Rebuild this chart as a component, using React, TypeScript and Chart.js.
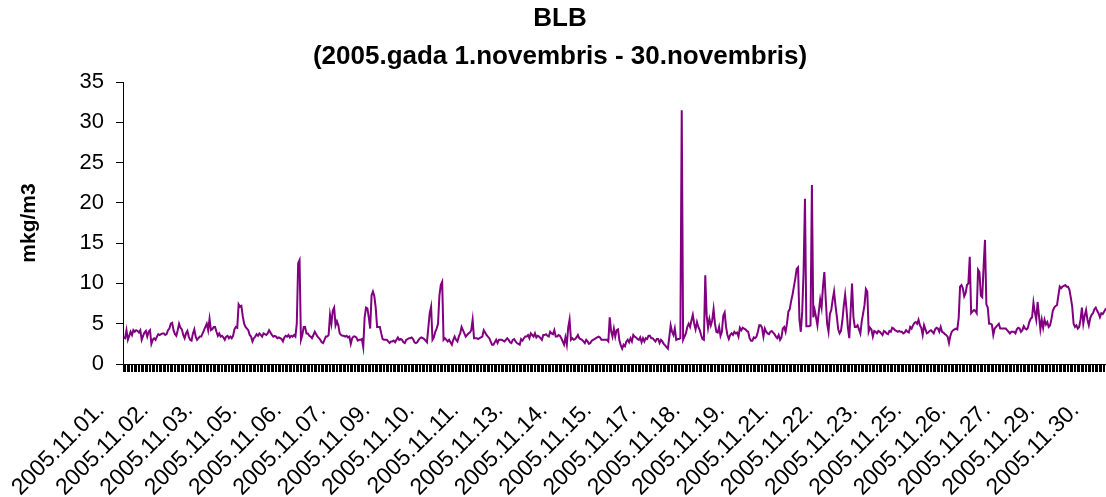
import React, { useEffect, useRef } from 'react';
import { Chart, registerables } from 'chart.js';

Chart.register(...registerables);

const TITLE_LINES = ['BLB', '(2005.gada 1.novembris - 30.novembris)'];
const Y_TITLE = 'mkg/m3';
const Y_MIN = 0;
const Y_MAX = 35;
const Y_STEP = 5;
const HOURS_PER_DAY = 24;
const LABEL_EVERY = 32;

const DAY_LABELS = [
  '2005.11.01.', '2005.11.02.', '2005.11.03.', '2005.11.04.', '2005.11.05.',
  '2005.11.06.', '2005.11.07.', '2005.11.08.', '2005.11.09.', '2005.11.10.',
  '2005.11.11.', '2005.11.12.', '2005.11.13.', '2005.11.14.', '2005.11.15.',
  '2005.11.16.', '2005.11.17.', '2005.11.18.', '2005.11.19.', '2005.11.20.',
  '2005.11.21.', '2005.11.22.', '2005.11.23.', '2005.11.24.', '2005.11.25.',
  '2005.11.26.', '2005.11.27.', '2005.11.28.', '2005.11.29.', '2005.11.30.',
];

// hourly values (mkg/m3), one array per day
const nov01 = [3.3,3.2,4.2,3.0,3.5,4.0,3.6,4.2,4.0,4.2,4.1,3.9,4.2,3.0,3.5,3.9,4.1,3.4,4.0,4.2,2.5,3.0,3.2,3.0];
const nov02 = [3.4,3.7,3.6,3.7,3.8,3.8,3.6,3.7,4.2,4.4,5.0,5.1,4.2,3.7,3.5,4.2,5.0,4.5,4.3,3.6,3.2,3.8,4.1,3.4];
const nov03 = [3.0,2.9,3.8,4.3,3.4,3.0,3.2,3.4,3.4,3.8,4.2,4.6,5.0,4.2,5.6,4.2,4.3,4.6,4.6,4.0,3.5,3.8,3.4,3.5];
const nov04 = [3.3,3.0,3.4,3.5,3.2,3.4,3.2,3.5,4.3,4.6,4.5,7.4,7.1,7.2,5.9,5.0,4.6,4.4,4.2,3.6,3.4,2.8,3.2,3.4];
const nov05 = [3.7,3.5,3.8,3.6,3.4,3.8,3.7,3.6,3.8,4.2,3.9,3.6,3.4,3.5,3.4,3.2,3.3,3.2,3.1,2.8,3.3,3.5,3.4,3.6];
const nov06 = [3.3,3.5,3.4,3.6,3.4,5.0,12.5,12.9,3.0,3.6,4.6,4.6,3.8,3.8,3.5,3.4,3.2,3.6,4.0,3.7,3.4,3.2,3.0,2.7];
const nov07 = [2.6,3.0,3.4,3.4,3.6,6.1,5.0,6.6,7.0,4.8,5.3,4.8,3.8,3.6,3.5,3.5,3.4,3.5,3.3,3.4,2.5,3.2,3.4,3.4];
const nov08 = [3.3,2.9,3.0,3.0,3.1,2.1,5.8,7.0,6.9,5.8,4.4,8.5,9.0,8.4,7.0,4.6,4.6,4.6,3.8,3.1,3.0,3.0,3.0,2.8];
const nov09 = [2.6,2.8,2.8,2.9,2.7,3.0,3.3,3.0,3.1,3.0,2.7,2.6,3.0,3.1,3.2,3.2,3.3,3.1,2.7,2.6,2.7,3.0,3.2,3.3];
const nov10 = [3.2,3.1,2.9,2.7,4.5,6.3,7.1,3.0,3.3,4.0,4.4,5.0,8.5,9.8,10.2,3.0,3.2,3.0,2.8,3.0,2.7,2.4,3.0,3.4];
const nov11 = [3.0,2.8,3.4,3.8,4.6,4.2,3.8,3.4,3.6,3.8,3.9,4.2,5.5,3.2,3.2,3.2,3.1,3.2,3.3,3.4,4.2,3.9,3.6,3.4];
const nov12 = [3.2,2.8,2.4,2.4,2.7,3.0,2.6,3.0,3.0,3.0,2.9,2.8,3.0,3.2,3.0,2.7,2.6,3.0,3.1,2.8,2.6,2.5,2.4,3.1];
const nov13 = [2.9,3.2,3.4,3.4,3.6,3.2,3.8,3.6,3.4,3.8,3.3,3.5,3.4,3.2,3.0,3.6,3.6,3.7,3.5,3.4,4.0,3.8,3.7,4.2];
const nov14 = [3.4,3.4,3.6,3.5,3.2,2.8,2.4,3.3,2.4,4.5,5.5,3.0,3.2,3.0,3.1,3.3,3.6,3.2,3.1,3.0,2.8,2.6,3.0,2.8];
const nov15 = [2.5,2.6,2.9,3.0,3.1,3.2,3.3,3.4,3.3,3.0,3.0,3.0,3.0,3.0,2.8,5.8,4.1,3.4,4.4,3.4,4.2,4.3,2.9,2.3];
const nov16 = [1.9,2.4,2.2,2.8,3.0,2.7,3.2,2.8,3.6,3.4,3.3,3.1,3.0,3.3,2.7,3.2,2.8,3.2,3.1,3.5,3.5,3.2,3.2,3.0];
const nov17 = [2.8,3.1,3.1,2.6,3.0,2.8,2.5,2.3,2.1,1.9,3.3,4.8,4.0,3.6,4.4,3.0,3.1,3.1,3.2,31.5,3.0,3.4,3.8,4.6];
const nov18 = [5.0,4.6,5.4,6.1,5.0,4.3,5.2,4.6,4.2,3.6,3.1,3.0,11.0,6.0,4.5,5.6,4.8,5.4,6.8,5.0,4.0,3.9,4.6,3.5];
const nov19 = [4.0,6.0,6.4,4.6,3.6,3.1,3.6,3.8,3.6,4.0,3.8,3.9,3.4,4.5,4.2,4.5,4.4,4.3,4.1,4.0,3.2,2.9,2.9,3.3];
const nov20 = [3.2,3.4,4.0,4.8,4.8,4.5,3.4,4.4,4.0,3.8,3.7,4.0,4.1,3.9,3.7,3.4,3.2,3.6,3.0,3.3,4.4,4.6,4.0,5.0];
const nov21 = [6.5,6.8,7.8,8.6,9.6,10.6,11.8,12.0,5.5,4.0,6.5,11.5,20.5,4.7,4.7,4.7,4.8,22.2,5.8,6.7,5.8,4.8,6.5,8.0];
const nov22 = [7.0,9.6,11.4,8.0,5.0,4.0,6.2,6.7,8.0,9.0,7.3,5.9,4.3,3.8,4.1,5.4,7.2,8.6,6.8,4.5,3.2,6.6,10.0,5.8];
const nov23 = [4.6,4.6,4.8,4.3,3.8,5.3,6.3,7.3,9.3,9.0,4.0,4.5,4.3,3.4,4.1,4.0,3.8,4.1,4.0,3.8,3.6,4.1,4.0,3.8];
const nov24 = [3.7,4.1,4.0,4.5,4.4,4.2,4.1,4.0,4.1,4.0,4.0,3.8,3.9,4.2,4.0,3.9,4.6,4.4,4.8,5.1,5.2,5.0,5.5,4.8];
const nov25 = [4.5,3.6,4.8,4.3,3.8,3.9,4.1,4.2,4.0,3.8,4.3,4.5,4.4,4.0,4.6,4.0,3.9,3.7,3.6,3.4,2.6,3.5,4.0,4.2];
const nov26 = [4.3,4.4,4.3,5.7,9.6,9.8,9.4,8.4,8.8,9.8,10.0,13.3,6.3,6.5,6.7,6.6,6.3,11.7,11.4,8.5,8.3,12.1,15.4,7.4];
const nov27 = [7.0,5.0,5.0,4.9,3.6,4.4,4.6,4.8,5.0,4.4,4.4,4.4,4.4,4.4,4.2,4.0,3.8,4.0,4.0,4.0,3.8,4.3,4.5,4.4];
const nov28 = [4.0,4.2,4.7,4.4,4.3,4.5,5.2,5.6,5.8,7.6,6.4,5.5,7.7,6.0,4.3,5.5,4.5,5.5,4.9,5.2,4.6,4.8,5.6,6.6];
const nov29 = [7.0,7.2,7.3,8.5,9.6,9.4,9.6,9.7,9.8,9.6,9.6,9.2,8.2,7.1,5.0,4.6,4.8,4.4,4.6,5.5,7.0,5.0,6.0,6.7];
const nov30 = [5.5,4.8,5.7,6.1,6.3,6.8,7.0,6.6,6.3,5.8,6.3,6.2,6.5,6.8,6.9,7.0,6.8,6.6,6.7,6.5,6.4,6.6,6.8,6.7];

const DAYS = [
  nov01, nov02, nov03, nov04, nov05, nov06, nov07, nov08, nov09, nov10,
  nov11, nov12, nov13, nov14, nov15, nov16, nov17, nov18, nov19, nov20,
  nov21, nov22, nov23, nov24, nov25, nov26, nov27, nov28, nov29, nov30,
];

const CATEGORIES: string[] = DAY_LABELS.flatMap((d) => Array(HOURS_PER_DAY).fill(d));
const VALUES: number[] = DAYS.flat();

const FONT = "'Liberation Sans', Arial, Helvetica, sans-serif";

export default function App() {
  const ref = useRef<HTMLCanvasElement | null>(null);

  useEffect(() => {
    const canvas = ref.current;
    if (!canvas) return;
    Chart.defaults.font.family = FONT;
    Chart.defaults.color = '#000';
    const chart = new Chart(canvas, {
      type: 'line',
      data: {
        labels: CATEGORIES,
        datasets: [
          {
            data: VALUES,
            borderColor: '#800080',
            backgroundColor: '#800080',
            borderWidth: 2,
            pointRadius: 0,
            tension: 0,
            fill: false,
          },
        ],
      },
      options: {
        animation: false,
        responsive: false,
        devicePixelRatio: 1,
        layout: { padding: { left: 0, right: 14, top: 0, bottom: 0 } },
        plugins: {
          legend: { display: false },
          tooltip: { enabled: false },
          title: {
            display: true,
            text: TITLE_LINES,
            color: '#000',
            font: { size: 26, weight: 'bold', lineHeight: 38 / 26 },
            padding: { top: 0, bottom: 6 },
          },
        },
        scales: {
          x: {
            type: 'category',
            offset: true,
            grid: {
              display: true,
              drawOnChartArea: false,
              drawTicks: true,
              tickLength: 8,
              color: '#000',
              lineWidth: 1,
              offset: true,
            },
            border: { display: true, color: '#000', width: 1 },
            ticks: {
              autoSkip: false,
              minRotation: 45,
              maxRotation: 45,
              color: '#000',
              font: { size: 23 },
              padding: 25,
              labelOffset: -23,
              callback: (_v: any, i: number) => (i % LABEL_EVERY === 0 ? CATEGORIES[i] : ''),
            },
            afterFit: (s: any) => {
              s.height = 133;
              s.paddingLeft = 0;
              s.paddingRight = 0;
            },
          },
          y: {
            min: Y_MIN,
            max: Y_MAX,
            grid: {
              display: true,
              drawOnChartArea: false,
              drawTicks: true,
              tickLength: 7,
              color: '#000',
            },
            border: { display: true, color: '#000', width: 1 },
            ticks: {
              stepSize: Y_STEP,
              color: '#000',
              font: { size: 22 },
              padding: 12,
            },
            title: {
              display: true,
              text: Y_TITLE,
              color: '#000',
              font: { size: 21, weight: 'bold' },
              padding: { top: 17, bottom: 0 },
            },
            afterFit: (s: any) => {
              s.width = 123;
            },
          },
        },
      },
    } as any);
    return () => chart.destroy();
  }, []);

  return (
    <div
      style={{
        position: 'fixed',
        left: 0,
        top: 0,
        width: 1106,
        height: 497,
        overflow: 'hidden',
        background: '#fff',
      }}
    >
      <canvas ref={ref} width={1134} height={497} style={{ display: 'block' }} />
    </div>
  );
}
